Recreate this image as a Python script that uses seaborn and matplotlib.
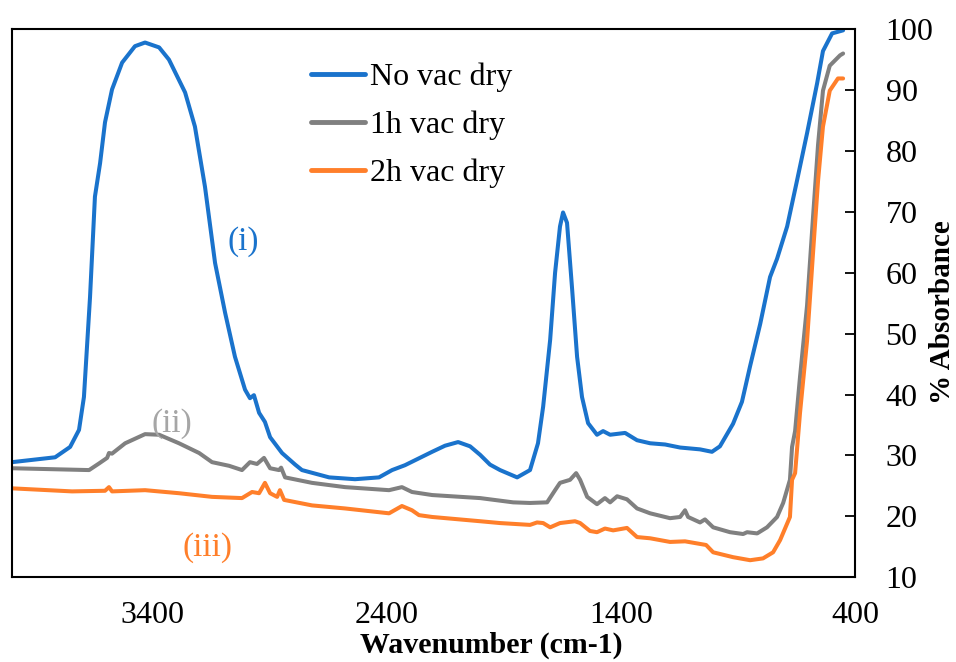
import pandas as pd
import numpy as np
import matplotlib
matplotlib.use("Agg")
import matplotlib.pyplot as plt
import seaborn as sns

# wavenumber (cm-1) and % absorbance
wn_novac = [4000, 3816, 3752, 3714, 3693, 3680, 3667, 3646, 3624, 3603, 3573, 3530, 3475,
            3432, 3372, 3330, 3261, 3219, 3176, 3133, 3090, 3048, 3005, 2984, 2967, 2945,
            2920, 2898, 2847, 2791, 2762, 2646, 2535, 2433, 2377, 2322, 2206, 2151, 2095,
            2044, 2001, 1959, 1916, 1843, 1788, 1754, 1732, 1702, 1681, 1660, 1647, 1630,
            1608, 1587, 1566, 1540, 1502, 1476, 1446, 1382, 1331, 1275, 1211, 1147, 1062,
            1011, 977, 921, 883, 848, 805, 763, 733, 690, 648, 605, 562, 537, 498, 451]
ab_novac = [28.9, 29.7, 31.4, 34.2, 39.6, 47.8, 56.0, 72.5, 78.0, 84.7, 90.1, 94.5, 97.2,
            97.8, 97.0, 95.0, 89.6, 84.0, 74.1, 61.6, 53.4, 46.2, 40.8, 39.4, 39.9, 37.0,
            35.5, 33.0, 30.4, 28.5, 27.6, 26.4, 26.1, 26.4, 27.6, 28.4, 30.6, 31.6, 32.2,
            31.5, 30.1, 28.5, 27.6, 26.4, 27.6, 32.0, 38.0, 49.0, 60.0, 67.6, 69.9, 68.2,
            57.2, 46.2, 39.6, 35.3, 33.4, 34.0, 33.4, 33.7, 32.5, 32.0, 31.8, 31.3, 31.0,
            30.6, 31.5, 35.2, 38.8, 44.7, 51.6, 59.3, 62.3, 67.6, 75.1, 82.9, 91.1, 96.4,
            99.3, 99.8]

wn_1h = [4000, 3671, 3628, 3594, 3586, 3573, 3517, 3432, 3372, 3287, 3201, 3146, 3073,
         3018, 2984, 2954, 2924, 2898, 2860, 2851, 2834, 2719, 2578, 2390, 2335, 2292,
         2206, 2001, 1860, 1788, 1715, 1681, 1660, 1617, 1591, 1574, 1544, 1502, 1468,
         1446, 1416, 1374, 1331, 1275, 1190, 1147, 1126, 1113, 1062, 1041, 1006, 934,
         878, 861, 818, 776, 733, 707, 678, 669, 656, 635, 605, 579, 558, 537, 508, 464, 451]
ab_1h = [27.9, 27.6, 28.7, 29.6, 30.4, 30.3, 32.0, 33.5, 33.4, 32.0, 30.4, 28.9, 28.3,
         27.6, 28.9, 28.6, 29.6, 27.9, 27.6, 28.0, 26.4, 25.5, 24.8, 24.3, 24.8, 24.0,
         23.5, 23.0, 22.3, 22.2, 22.3, 24.3, 25.5, 26.0, 27.1, 26.0, 23.2, 22.0, 23.0,
         22.3, 23.3, 22.8, 21.3, 20.5, 19.7, 19.9, 21.0, 19.9, 19.0, 19.5, 18.2, 17.4,
         17.1, 17.4, 17.2, 18.2, 19.9, 22.2, 26.0, 31.4, 34.0, 42.9, 54.6, 69.4, 81.0,
         89.9, 94.0, 95.7, 96.0]

wn_2h = [4000, 3744, 3603, 3586, 3573, 3432, 3287, 3146, 3018, 2975, 2945, 2920, 2898,
         2868, 2856, 2838, 2719, 2578, 2390, 2335, 2292, 2262, 2206, 2001, 1916, 1788,
         1758, 1732, 1702, 1660, 1596, 1574, 1532, 1502, 1468, 1433, 1374, 1331, 1275,
         1190, 1126, 1036, 1006, 921, 848, 793, 750, 720, 678, 669, 656, 635, 605, 579,
         558, 537, 508, 473, 451]
ab_2h = [24.6, 24.1, 24.2, 24.8, 24.1, 24.3, 23.8, 23.2, 23.0, 24.0, 23.8, 25.5, 23.8,
         23.2, 24.3, 22.7, 21.8, 21.3, 20.5, 21.7, 21.0, 20.2, 19.9, 19.2, 18.9, 18.6,
         19.0, 18.9, 18.2, 18.9, 19.2, 18.9, 17.6, 17.4, 18.0, 17.7, 18.1, 16.6, 16.4,
         15.8, 15.9, 15.3, 14.1, 13.3, 12.8, 13.1, 14.1, 16.1, 19.9, 26.0, 27.1, 37.0,
         48.8, 63.5, 75.1, 84.0, 89.9, 91.9, 91.9]

series = ["No vac dry", "1h vac dry", "2h vac dry"]
colors = ["#1a73cc", "#808080", "#ff7f2a"]

df = pd.concat([
    pd.DataFrame({"wn": wn_novac, "ab": ab_novac, "sample": series[0]}),
    pd.DataFrame({"wn": wn_1h, "ab": ab_1h, "sample": series[1]}),
    pd.DataFrame({"wn": wn_2h, "ab": ab_2h, "sample": series[2]}),
])

sns.set_style("white")
plt.rcParams["font.family"] = ["Liberation Serif", "DejaVu Serif"]
plt.rcParams["lines.solid_capstyle"] = "round"
plt.rcParams["lines.solid_joinstyle"] = "round"

fig = plt.figure(figsize=(9.56, 6.62), dpi=100)
ax = fig.add_axes([0.0126, 0.128, 0.8818, 0.828])

sns.lineplot(data=df, x="wn", y="ab", hue="sample", palette=colors,
             hue_order=series, linewidth=2.9, ax=ax, estimator=None, sort=True)

ax.set_xlim(4000, 400)
ax.set_ylim(10, 100)
ax.set_xticks([3400, 2400, 1400, 400])
ax.set_yticks(range(10, 101, 10))
ax.yaxis.tick_right()
ax.yaxis.set_label_position("right")
ax.tick_params(axis="both", direction="in", length=7, width=1.3, labelsize=23,
               colors="black")
ax.tick_params(axis="x", pad=17)
ax.tick_params(axis="y", pad=22)
for s in ax.spines.values():
    s.set_color("black")
    s.set_linewidth(1.5)

ax.set_xlabel("Wavenumber (cm-1)", fontsize=21.5, fontweight="bold", color="black")
ax.xaxis.set_label_coords(0.569, -0.100)
ax.set_ylabel("% Absorbance", fontsize=21, fontweight="bold", color="black")
ax.yaxis.set_label_coords(1.104, 0.484)
ax.yaxis.label.set_va("center")
ax.yaxis.label.set_ha("center")

ax.text(3014, 65.1, "(i)", color=colors[0], fontsize=24, ha="center", va="center")
ax.text(3317, 35.3, "(ii)", color="#a6a6a6", fontsize=24, ha="center", va="center")
ax.text(3167, 14.8, "(iii)", color=colors[2], fontsize=24, ha="center", va="center")

leg = ax.legend(loc="upper left", bbox_to_anchor=(0.339, 0.962), frameon=False,
                fontsize=23, handlelength=1.7, labelspacing=0.58, handletextpad=0.15,
                borderaxespad=0)
for h in leg.get_lines():
    h.set_linewidth(3.5)
for t in leg.get_texts():
    t.set_color("black")

fig.savefig("out.png", dpi=100)
